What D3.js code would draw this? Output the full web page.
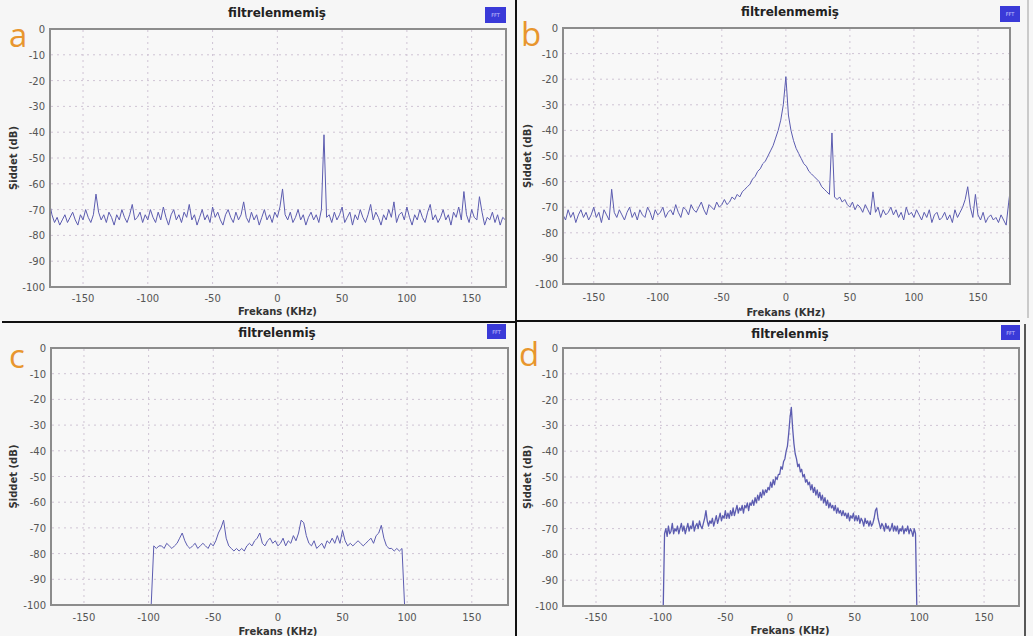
<html lang="en">
<head>
<meta charset="UTF-8">
<title>FFT</title>
<style>
  body { margin: 0; background: #f6f6f6; }
  svg { display: block; font-family: "DejaVu Sans", sans-serif; }
  .frame { fill: #f8f8f8; stroke: #8c8c8c; stroke-width: 2px; }
  .grid line { stroke: #cfc4d4; stroke-width: 1px; stroke-dasharray: 2,4; }
  .tick { font-size: 10px; fill: #555; }
  .title { font-size: 12px; font-weight: bold; fill: #222; }
  .axlabel { font-size: 10px; font-weight: bold; fill: #333; }
  .letter { font-family: "Open Sans", sans-serif; font-size: 33px; fill: #e8962e; }
  .spec { fill: none; stroke: #5c5cb0; stroke-width: 1px; stroke-linejoin: round; }
  .badge { fill: #3a3ad8; }
  .badgetxt { font-size: 5px; fill: #c8c8ff; }
</style>
</head>
<body>
<svg></svg>
<script src="https://cdnjs.cloudflare.com/ajax/libs/d3/7.8.5/d3.min.js"></script>
<script>

var width = 1033, height = 636;

// tick labels
var xTicks = [-150, -100, -50, 0, 50, 100, 150];
var yTicks = [0, -10, -20, -30, -40, -50, -60, -70, -80, -90, -100];

// titles
var titles = ["filtrelenmemiş", "filtrelenmemiş", "filtrelenmiş", "filtrelenmiş"];
var letters = ["a", "b", "c", "d"];

// FFT bins (KHz)
var binStartAB = -176, binStepAB = 2;
var binStartC = -98, binStepC = 2;
var binStartD = -98, binStepD = 1;

// spectra in dB
var valuesA = [
  -67,-72,-75,-73,-76,-74,-72,-75,-73,-71,
  -74,-76,-72,-74,-70,-73,-75,-72,-64,-71,
  -74,-72,-75,-71,-73,-76,-72,-74,-70,-73,
  -75,-72,-68,-74,-73,-71,-75,-72,-74,-70,
  -73,-75,-71,-74,-69,-73,-76,-72,-70,-74,
  -72,-75,-71,-73,-68,-74,-72,-76,-73,-70,
  -74,-72,-75,-69,-73,-71,-74,-76,-72,-70,
  -73,-75,-71,-74,-72,-67,-73,-75,-71,-74,
  -72,-76,-73,-70,-74,-72,-75,-71,-73,-69,
  -62,-72,-74,-71,-75,-73,-70,-74,-72,-76,
  -73,-71,-74,-72,-75,-70,-41,-73,-72,-75,
  -71,-74,-72,-69,-75,-73,-71,-76,-72,-74,
  -70,-73,-75,-72,-68,-74,-71,-73,-76,-72,
  -74,-70,-73,-67,-75,-72,-71,-74,-69,-73,
  -76,-72,-74,-70,-73,-75,-71,-68,-74,-72,
  -75,-73,-70,-74,-72,-76,-71,-73,-69,-74,
  -63,-72,-75,-70,-73,-74,-65,-71,-76,-73,
  -74,-71,-75,-72,-76,-73,-74
];

var valuesB = [
  -68,-73,-75,-71,-74,-72,-76,-73,-71,-74,
  -72,-75,-73,-70,-74,-72,-76,-71,-73,-75,
  -63,-72,-74,-71,-73,-75,-72,-70,-74,-72,
  -75,-71,-73,-74,-70,-72,-75,-71,-73,-72,
  -70,-74,-72,-71,-73,-69,-72,-74,-70,-71,
  -73,-69,-71,-72,-70,-68,-71,-73,-69,-70,
  -71,-68,-70,-69,-67,-69,-68,-66,-67,-65,
  -66,-64,-63,-62,-61,-59,-58,-56,-55,-53,
  -52,-50,-48,-46,-43,-40,-36,-30,-19,-34,
  -40,-44,-47,-49,-51,-53,-54,-56,-57,-58,
  -59,-60,-62,-63,-64,-65,-41,-66,-67,-66,
  -68,-67,-69,-70,-68,-71,-69,-70,-72,-69,
  -71,-73,-64,-72,-70,-74,-71,-73,-72,-70,
  -73,-71,-74,-72,-75,-70,-73,-72,-74,-71,
  -73,-75,-72,-74,-71,-76,-73,-72,-75,-74,
  -72,-75,-73,-76,-71,-74,-72,-70,-67,-62,
  -70,-74,-65,-73,-75,-72,-76,-74,-73,-75,
  -74,-76,-73,-75,-77,-68,-60
];

var valuesC = [
  -100,-77,-78,-77,-77,-78,-76,-77,-78,-77,
  -76,-74,-72,-75,-77,-78,-77,-76,-78,-77,
  -76,-77,-78,-76,-77,-75,-72,-70,-67,-74,
  -77,-78,-79,-78,-79,-78,-79,-77,-76,-77,
  -75,-74,-72,-76,-77,-75,-74,-76,-75,-77,
  -76,-74,-77,-75,-76,-73,-75,-72,-67,-68,
  -73,-76,-77,-75,-78,-77,-76,-78,-75,-76,
  -74,-76,-73,-76,-71,-75,-77,-76,-77,-76,
  -75,-76,-77,-76,-75,-74,-76,-73,-72,-69,
  -74,-77,-78,-78,-79,-78,-79,-78,-100
];

var valuesD = [
  -100,-72,-70,-73,-69,-72,-71,-68,-72,-70,
  -71,-69,-72,-70,-68,-71,-69,-72,-70,-68,
  -71,-69,-70,-67,-71,-69,-68,-70,-67,-69,
  -70,-68,-66,-63,-67,-69,-67,-68,-66,-69,
  -67,-65,-68,-66,-64,-67,-65,-66,-63,-66,
  -64,-66,-63,-65,-62,-65,-63,-61,-64,-62,
  -63,-61,-64,-61,-62,-60,-63,-60,-61,-59,
  -61,-58,-60,-57,-59,-56,-58,-55,-57,-55,
  -56,-54,-55,-52,-54,-51,-53,-50,-51,-49,
  -49,-46,-47,-44,-43,-40,-38,-33,-27,-23,
  -31,-37,-41,-43,-46,-45,-48,-47,-50,-49,
  -52,-51,-53,-52,-55,-53,-56,-54,-57,-55,
  -58,-56,-59,-57,-60,-58,-61,-59,-62,-60,
  -62,-61,-63,-61,-64,-62,-64,-63,-65,-63,
  -65,-64,-66,-64,-67,-65,-66,-64,-67,-65,
  -67,-65,-68,-66,-67,-69,-66,-68,-67,-69,
  -67,-69,-68,-66,-63,-62,-66,-68,-70,-68,
  -69,-71,-68,-70,-69,-71,-70,-68,-71,-69,
  -71,-69,-72,-70,-71,-69,-72,-70,-71,-69,
  -72,-70,-71,-73,-70,-72,-100
];

function toPoints(values, start, step) {
  return values.map(function(v, i) { return [start + i * step, v]; });
}

var panels = [
  { x0: 50,  x1: 506,  y0: 29,  y1: 287, dom: [-175.5, 176.5], pts: toPoints(valuesA, binStartAB, binStepAB),
    title: [277, 17], badge: [485, 7, 21, 16], letter: [9, 47], ylab: 14, tickY: 302, xlab: 315, lw: 1 },
  { x0: 563, x1: 1010, y0: 28,  y1: 284, dom: [-174, 175], pts: toPoints(valuesB, binStartAB, binStepAB),
    title: [790, 16], badge: [1000, 6, 20, 16], letter: [521, 46], ylab: 528, tickY: 301, xlab: 316, lw: 1 },
  { x0: 51,  x1: 508,  y0: 348, y1: 605, dom: [-175.5, 178], pts: toPoints(valuesC, binStartC, binStepC),
    title: [277, 337], badge: [487, 324, 19, 15], letter: [9, 368], ylab: 14, tickY: 621, xlab: 635, lw: 1 },
  { x0: 563, x1: 1019, y0: 348, y1: 606, dom: [-175.5, 177], pts: toPoints(valuesD, binStartD, binStepD),
    title: [790, 338], badge: [1001, 325, 19, 15], letter: [519, 366], ylab: 528, tickY: 621, xlab: 634, lw: 1.3 }
];

var svg = d3.select("svg")
  .attr("width", width)
  .attr("height", height);

svg.append("rect").attr("width", width).attr("height", height).attr("fill", "#f6f6f6");

var defs = svg.append("defs");

panels.forEach(function(p, k) {

  var x = d3.scaleLinear().domain(p.dom).range([p.x0, p.x1]);
  var y = d3.scaleLinear().domain([-100, 0]).range([p.y1, p.y0]);

  var g = svg.append("g");

  g.append("rect").attr("class", "frame")
    .attr("x", p.x0).attr("y", p.y0)
    .attr("width", p.x1 - p.x0).attr("height", p.y1 - p.y0);

  var grid = g.append("g").attr("class", "grid");
  grid.selectAll(".gx").data(xTicks).enter().append("line")
    .attr("x1", x).attr("x2", x).attr("y1", p.y0 + 1).attr("y2", p.y1 - 1);
  grid.selectAll(".gy").data(yTicks.slice(1, -1)).enter().append("line")
    .attr("x1", p.x0 + 1).attr("x2", p.x1 - 1).attr("y1", y).attr("y2", y);

  defs.append("clipPath").attr("id", "clip" + k)
    .append("rect").attr("x", p.x0).attr("y", p.y0)
    .attr("width", p.x1 - p.x0).attr("height", p.y1 - p.y0);

  var line = d3.line().x(function(d) { return x(d[0]); }).y(function(d) { return y(d[1]); });

  g.append("path").attr("class", "spec")
    .attr("clip-path", "url(#clip" + k + ")")
    .style("stroke-width", p.lw)
    .attr("d", line(p.pts));

  // redraw frame edges on top
  g.append("rect").attr("x", p.x0).attr("y", p.y0)
    .attr("width", p.x1 - p.x0).attr("height", p.y1 - p.y0)
    .attr("fill", "none").attr("stroke", "#8c8c8c").attr("stroke-width", 2);

  g.selectAll(".ty").data(yTicks).enter().append("text")
    .attr("class", "tick")
    .attr("x", p.x0 - 5).attr("y", function(d) { return y(d) + 4; })
    .attr("text-anchor", "end")
    .text(function(d) { return d; });

  g.selectAll(".tx").data(xTicks).enter().append("text")
    .attr("class", "tick")
    .attr("x", x).attr("y", p.tickY)
    .attr("text-anchor", "middle")
    .text(function(d) { return d; });

  g.append("text").attr("class", "axlabel")
    .attr("x", x(0)).attr("y", p.xlab)
    .attr("text-anchor", "middle")
    .text("Frekans (KHz)");

  g.append("text").attr("class", "axlabel")
    .attr("transform", "translate(" + (p.ylab + 3) + "," + ((p.y0 + p.y1) / 2) + ") rotate(-90)")
    .attr("text-anchor", "middle")
    .text("Şiddet (dB)");

  g.append("text").attr("class", "title")
    .attr("x", p.title[0]).attr("y", p.title[1])
    .attr("text-anchor", "middle")
    .text(titles[k]);

  g.append("rect").attr("class", "badge")
    .attr("x", p.badge[0]).attr("y", p.badge[1])
    .attr("width", p.badge[2]).attr("height", p.badge[3]);
  g.append("text").attr("class", "badgetxt")
    .attr("x", p.badge[0] + p.badge[2] / 2).attr("y", p.badge[1] + p.badge[3] / 2 + 2)
    .attr("text-anchor", "middle")
    .text("FFT");

  g.append("text").attr("class", "letter")
    .attr("x", p.letter[0]).attr("y", p.letter[1])
    .text(letters[k]);
});

// separators between the four screenshots
svg.append("line").attr("x1", 2).attr("x2", 516).attr("y1", 322).attr("y2", 322)
  .attr("stroke", "#111").attr("stroke-width", 2);
svg.append("line").attr("x1", 516).attr("x2", 1020).attr("y1", 321).attr("y2", 321)
  .attr("stroke", "#111").attr("stroke-width", 2);
svg.append("line").attr("x1", 516).attr("x2", 516).attr("y1", 0).attr("y2", height)
  .attr("stroke", "#111").attr("stroke-width", 2);
svg.append("line").attr("x1", 1028).attr("x2", 1028).attr("y1", 0).attr("y2", 318)
  .attr("stroke", "#bbb").attr("stroke-width", 1.5);
svg.append("line").attr("x1", 1025).attr("x2", 1025).attr("y1", 324).attr("y2", height)
  .attr("stroke", "#222").attr("stroke-width", 1.5);

</script>
</body>
</html>
